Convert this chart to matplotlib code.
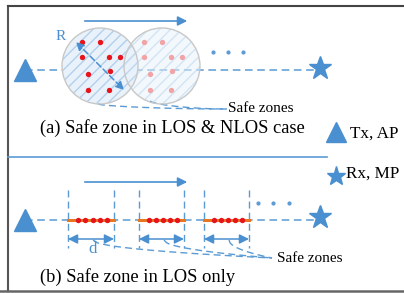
import matplotlib
matplotlib.use('Agg')
import matplotlib.pyplot as plt
from matplotlib.patches import Circle
import numpy as np

## --- Diagram data (pixel coordinates, y grows downward) --- ##

BLUE = '#4a8fd0'
DASH_BLUE = '#5b9bd5'

# panel (a): circle centres and radius, dot offsets inside a circle
circle_x = [100, 162]
circle_y = 66
circle_r = 38
dot_dx = [-18, 0, -18, 9, 20, -12, 10, -12, 9]
dot_dy = [-24, -24, -9, -9, -9, 8, 5, 24, 24]

# panel (b): safe zone segments (left, right)
zone_left = [68, 139, 204]
zone_right = [114, 184, 249]
dots_per_zone = 5

line_a_y = 70
line_b_y = 220

SERIF = 'Liberation Serif'
CAP_SIZE = 13.3
LEG_SIZE = 12.3


def draw_dots(ax, xs, y):
    for x in xs:
        ax.plot(x, y, 'o', color=DASH_BLUE, markersize=2.0)


fig = plt.figure(figsize=(4.04, 2.93), dpi=100)
ax = fig.add_axes([0, 0, 1, 1])
ax.set_xlim(0, 404)
ax.set_ylim(293, 0)
ax.axis('off')

# outer frame
ax.plot([8, 8], [6, 291], color='#555555', lw=1.5)
ax.plot([8, 404], [6, 6], color='#444444', lw=1.5)
ax.plot([0, 404], [291, 291], color='#666666', lw=1.8)
# separator
ax.plot([8, 327], [157, 157], color=DASH_BLUE, lw=1.2)

## --- (a) Safe zone in LOS & NLOS case --- ##
ax.plot([25, 318], [line_a_y, line_a_y], ls=(0, (5, 3)), color=DASH_BLUE, lw=1.1, zorder=1)
for i, cx in enumerate(circle_x):
    alpha = 1.0 if i == 0 else 0.5
    ax.add_patch(Circle((cx, circle_y), circle_r, facecolor='#e9f2fa', edgecolor='#b3d0ec',
                        hatch='///', lw=0, alpha=alpha, zorder=2))
    ax.add_patch(Circle((cx, circle_y), circle_r, facecolor='none', edgecolor='#c8c8c8',
                        lw=1.0, zorder=3))
    col = '#e8141c' if i == 0 else '#f2a3a6'
    ax.scatter([cx + d for d in dot_dx], [circle_y + d for d in dot_dy], s=15, color=col,
               zorder=4, lw=0)

ax.plot(25, line_a_y, '^', color=BLUE, markersize=16, zorder=5)
ax.plot(320, line_a_y - 2, '*', color=BLUE, markersize=17, zorder=5)

ax.annotate('', xy=(190, 21), xytext=(82, 21),
            arrowprops=dict(arrowstyle='-|>', color=BLUE, lw=1.2, mutation_scale=14))
ax.annotate('', xy=(126, 92), xytext=(74, 40),
            arrowprops=dict(arrowstyle='<|-|>', color=BLUE, lw=1.1, ls=(0, (4, 2)),
                            mutation_scale=12), zorder=5)
ax.text(61, 36, 'R', color=BLUE, fontsize=11, family=SERIF, ha='center', va='center')
draw_dots(ax, [213, 228, 243], 52)

t = np.linspace(0, 1, 40)
for x0, y0 in [(98, 104), (150, 101)]:
    xs = x0 + (227 - x0) * t
    ys = y0 + (109 - y0) * np.sin(t * np.pi / 2) ** 0.6
    ax.plot(xs, ys, ls=(0, (5, 3)), color=DASH_BLUE, lw=1.0)
ax.text(228, 108, 'Safe zones', fontsize=11, family=SERIF, va='center')
ax.text(40, 128, '(a) Safe zone in LOS & NLOS case', fontsize=CAP_SIZE,
        family=SERIF, va='center')

# legend
ax.plot(336, 132, '^', color=BLUE, markersize=14)
ax.text(350, 134, 'Tx, AP', fontsize=LEG_SIZE, family=SERIF, va='center')
ax.plot(336, 176, '*', color=BLUE, markersize=14)
ax.text(346, 174, 'Rx, MP', fontsize=LEG_SIZE, family=SERIF, va='center')

## --- (b) Safe zone in LOS only --- ##
ax.plot([25, 318], [line_b_y, line_b_y], ls=(0, (5, 3)), color=DASH_BLUE, lw=1.1, zorder=1)
ax.plot(25, line_b_y, '^', color=BLUE, markersize=16, zorder=5)
ax.plot(320, line_b_y - 3, '*', color=BLUE, markersize=17, zorder=5)
ax.annotate('', xy=(190, 182), xytext=(82, 182),
            arrowprops=dict(arrowstyle='-|>', color=BLUE, lw=1.2, mutation_scale=14))

for left, right in zip(zone_left, zone_right):
    for x in (left, right):
        ax.plot([x, x], [190, 248], ls=(0, (5, 3)), color=DASH_BLUE, lw=1.0)
    ax.plot([left, right], [line_b_y, line_b_y], color='#e87722', lw=2.2, zorder=3)
    xs = np.linspace(left + 10, right - 7, dots_per_zone)
    ax.scatter(xs, [line_b_y] * dots_per_zone, s=15, color='#e8141c', zorder=4, lw=0)
    ax.annotate('', xy=(left, 239), xytext=(right, 239),
                arrowprops=dict(arrowstyle='<|-|>', color=BLUE, lw=1.1, mutation_scale=14,
                                shrinkA=0, shrinkB=0))
    xs = np.linspace(left + 25, 272, 40)
    ys = 240 + (258 - 240) * np.sqrt((xs - xs[0]) / (272 - xs[0]))
    ax.plot(xs, ys, ls=(0, (5, 3)), color=DASH_BLUE, lw=1.0)

ax.text(93, 249, 'd', color=BLUE, fontsize=12, family=SERIF, ha='center', va='center')
draw_dots(ax, [258, 273, 289], 203)
ax.text(277, 258, 'Safe zones', fontsize=11, family=SERIF, va='center')
ax.text(40, 277, '(b) Safe zone in LOS only', fontsize=CAP_SIZE,
        family=SERIF, va='center')

fig.savefig('out.png', dpi=100)
